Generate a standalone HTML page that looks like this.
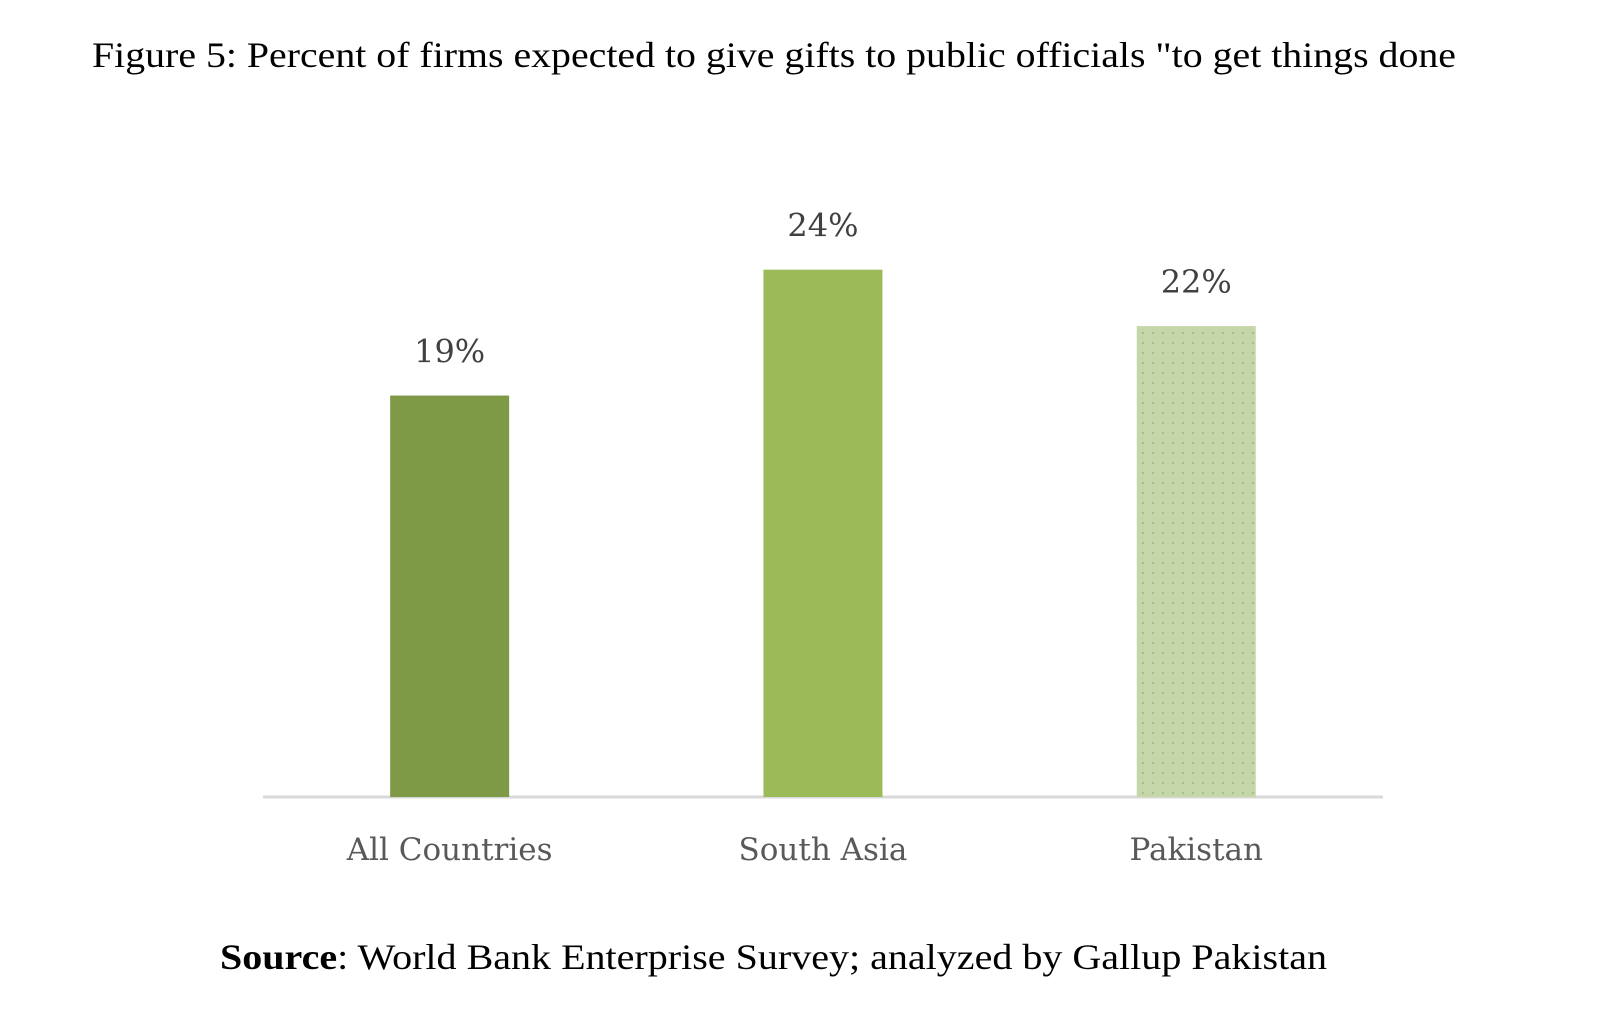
<!DOCTYPE html>
<html><head><meta charset="utf-8"><style>
html,body{margin:0;padding:0;background:#fff;}
svg{display:block;}
</style></head><body>
<svg id="chart" width="1600" height="1026" viewBox="0 0 1600 1026" xmlns="http://www.w3.org/2000/svg">
<defs>
<pattern id="dots" width="10" height="10" patternUnits="userSpaceOnUse">
<rect width="10" height="10" fill="#c5d6a9"/>
<circle cx="3" cy="3" r="1" fill="#9fb57c"/>
</pattern>
</defs>
<text x="92" y="67" font-family="Liberation Serif, serif" font-size="36" fill="#000" textLength="1364" lengthAdjust="spacingAndGlyphs">Figure 5: Percent of firms expected to give gifts to public officials "to get things done</text>
<line x1="263" y1="797" x2="1383" y2="797" stroke="#d9d9d9" stroke-width="3"/>
<g id="bars"></g>
<text x="220" y="969" font-family="Liberation Serif, serif" font-size="36" fill="#000" textLength="1107" lengthAdjust="spacingAndGlyphs"><tspan font-weight="bold">Source</tspan>: World Bank Enterprise Survey; analyzed by Gallup Pakistan</text>
</svg>
<script>
const categories = ["All Countries", "South Asia", "Pakistan"];
const values = [18.5, 24.3, 21.7];
const valueLabels = ["19%", "24%", "22%"];
const fills = ["#7e9a47", "#9bbb59", "url(#dots)"];
const baseY = 797, pxPerUnit = 21.7;
const x0 = 263, bandW = 373.3, barW = 119;
function yScale(v){ return baseY - v * pxPerUnit; }
function xCenter(i){ return x0 + bandW * (i + 0.5); }
const g = document.getElementById('bars');
const NS = "http://www.w3.org/2000/svg";
categories.forEach((c, i) => {
  const r = document.createElementNS(NS, 'rect');
  
  
  r.setAttribute('x', xCenter(i) - barW / 2);
  r.setAttribute('y', yScale(values[i]));
  r.setAttribute('width', barW);
  r.setAttribute('height', baseY - yScale(values[i]));
  r.setAttribute('fill', fills[i]);
  g.appendChild(r);
  const t = document.createElementNS(NS, 'text');
  
  
  t.setAttribute('x', xCenter(i));
  t.setAttribute('y', yScale(values[i]) - 33);
  t.setAttribute('text-anchor', 'middle');
  t.setAttribute('font-family', 'DejaVu Serif, Liberation Serif, serif');
  t.setAttribute('font-size', '32');
  t.setAttribute('fill', '#404040');
  t.textContent = valueLabels[i];
  g.appendChild(t);
  const l = document.createElementNS(NS, 'text');
  
  
  l.setAttribute('x', xCenter(i));
  l.setAttribute('y', 860);
  l.setAttribute('text-anchor', 'middle');
  l.setAttribute('font-family', 'DejaVu Serif, Liberation Serif, serif');
  l.setAttribute('font-size', '31');
  l.setAttribute('fill', '#595959');
  l.textContent = c;
  g.appendChild(l);
});
</script>
</body></html>
